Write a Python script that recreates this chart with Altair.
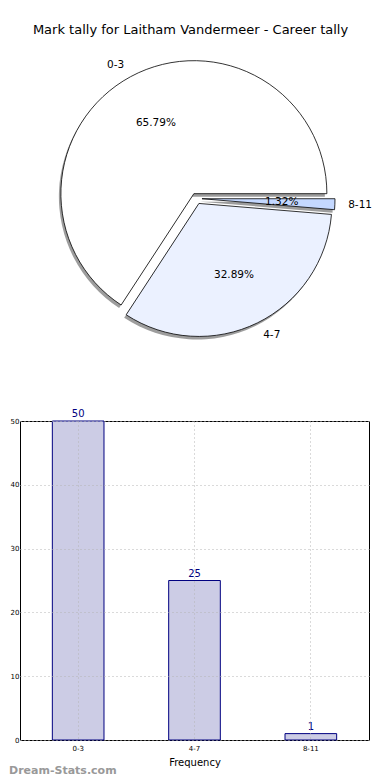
import altair as alt
import pandas as pd

# ---- data ----
categories = ["0-3", "4-7", "8-11"]
counts = [50, 25, 1]
slice_colors = ["#FFFFFF", "#EBF1FF", "#C4D8FF"]
y_ticks = [0, 10, 20, 30, 40, 50]
title_text = "Mark tally for Laitham Vandermeer - Career tally"
watermark = ["Dream-Stats.com"]

df = pd.DataFrame({"cat": categories, "count": counts, "idx": list(range(len(categories)))})

R = 133
CX, CY = 176.5, 155.5
EXP = 5.5

pie_base = (
    alt.Chart(df)
    .transform_joinaggregate(total="sum(count)")
    .transform_window(cum="sum(count)", sort=[alt.SortField("idx")], frame=[None, 0])
    .transform_calculate(
        mid="2*PI*(datum.cum - datum.count/2)/datum.total",
        t1="PI/2 - 2*PI*datum.cum/datum.total",
        t2="PI/2 - 2*PI*(datum.cum - datum.count)/datum.total",
        pct="format(100*datum.count/datum.total, '.2f') + '%'",
    )
    .transform_calculate(
        cx=f"{CX} + {EXP}*cos(datum.mid)",
        cy=f"{CY} - {EXP}*sin(datum.mid)",
    )
    .transform_calculate(
        px=f"datum.cx + {0.6*R}*cos(datum.mid)",
        py=f"datum.cy - {0.6*R}*sin(datum.mid)",
        lx=f"datum.cx + {1.1*R}*cos(datum.mid)",
        ly=f"datum.cy - {1.1*R}*sin(datum.mid)",
        side="cos(datum.mid) < 0 ? 'L' : 'R'",
    )
)

xc = alt.X("cx:Q", scale=None)
yc = alt.Y("cy:Q", scale=None)
th = alt.Theta("t1:Q", scale=None)
th2 = alt.Theta2("t2:Q")

shadow = pie_base.mark_arc(radius=R, fill="#4d4d4d", opacity=0.55, xOffset=-2, yOffset=3).encode(
    x=xc, y=yc, theta=th, theta2=th2
)
wedges = pie_base.mark_arc(radius=R, stroke="black", strokeWidth=0.8).encode(
    x=xc, y=yc, theta=th, theta2=th2,
    color=alt.Color("cat:N", scale=alt.Scale(domain=categories, range=slice_colors), legend=None),
)
pct_text = pie_base.mark_text(fontSize=10.5, color="black").encode(
    x=alt.X("px:Q", scale=None), y=alt.Y("py:Q", scale=None), text="pct:N"
)
lab_left = pie_base.transform_filter("datum.side == 'L'").mark_text(
    fontSize=10.5, color="black", align="right"
).encode(x=alt.X("lx:Q", scale=None), y=alt.Y("ly:Q", scale=None), text="cat:N")
lab_right = pie_base.transform_filter("datum.side == 'R'").mark_text(
    fontSize=10.5, color="black", align="left"
).encode(x=alt.X("lx:Q", scale=None), y=alt.Y("ly:Q", scale=None), text="cat:N")

pie = alt.layer(shadow, wedges, pct_text, lab_left, lab_right).properties(
    width=350, height=353, view=alt.ViewBackground(stroke="transparent")
)

# ---- bar chart ----
bdf = pd.DataFrame({"cat": categories, "count": counts})
grid_col = "#b5b5b5"
xenc = alt.X(
    "cat:N", sort=categories,
    scale=alt.Scale(paddingInner=0.556, paddingOuter=0.278),
    axis=alt.Axis(title="Frequency", labelAngle=0, labelFontSize=7, labelColor="black",
                  titleFontSize=10, titleFontWeight="normal", titleColor="black",
                  titlePadding=6, labelPadding=4, tickSize=0, domain=False, grid=True,
                  gridDash=[1, 3], gridColor=grid_col, bandPosition=0.5, zindex=1),
)
yenc = alt.Y(
    "count:Q", scale=alt.Scale(domain=[0, 50], nice=False),
    axis=alt.Axis(values=y_ticks, title=None, labelFontSize=7, labelColor="black",
                  labelPadding=1, tickSize=0, domain=False, grid=True,
                  gridDash=[1, 3], gridColor=grid_col, zindex=1),
)
bar_base = alt.Chart(bdf)
bars = bar_base.mark_bar(fill="#CCCCE5", stroke="#000080", strokeWidth=1).encode(x=xenc, y=yenc)
bar_text = bar_base.mark_text(color="#000080", fontSize=10, dy=-2, baseline="bottom").encode(
    x=alt.X("cat:N", sort=categories), y="count:Q", text="count:Q"
)
wm = alt.Chart(pd.DataFrame({"t": watermark})).mark_text(
    color="#999999", fontSize=11, fontWeight="bold", align="left", baseline="bottom"
).encode(x=alt.value(-11), y=alt.value(355), text="t:N")

bar = alt.layer(bars, bar_text, wm).properties(width=349, height=319)

chart = alt.vconcat(pie, bar, spacing=11).properties(
    title=alt.TitleParams(title_text, fontSize=13, fontWeight="normal", color="black",
                          anchor="middle", offset=6, font="DejaVu Sans"),
    padding={"left": 0, "top": 15, "right": 0, "bottom": 0},
).configure(font="DejaVu Sans").configure_view(stroke="black", strokeWidth=1)

chart.save("out.html", embed_options={"renderer": "svg", "actions": False})
